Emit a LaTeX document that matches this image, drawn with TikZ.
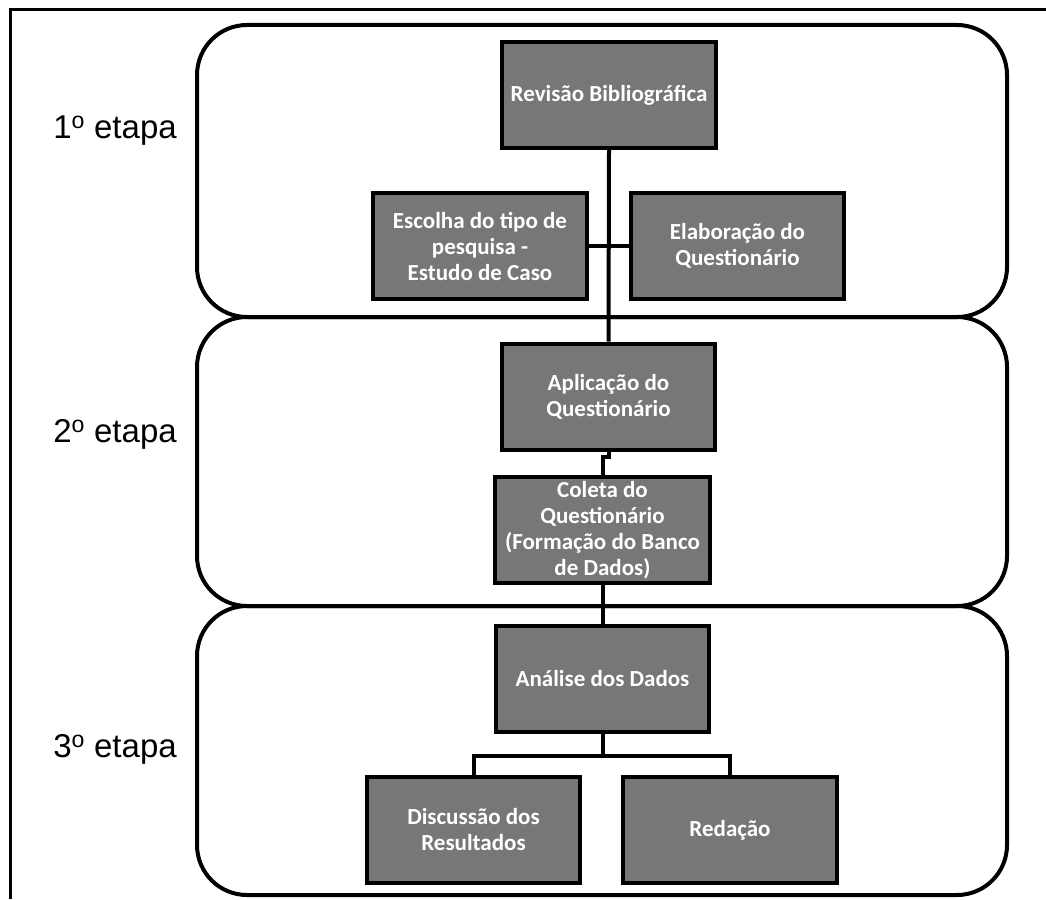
\documentclass[tikz,border=0pt]{standalone}
\usepackage{fontspec}
\setmainfont{Liberation Sans}
\newfontfamily\boxfont{Carlito}
\definecolor{boxgray}{RGB}{119,119,119}
\tikzset{
  stagebox/.style={draw=black, line width=4pt, rounded corners=50pt},
  graybox/.style={draw=black, fill=boxgray, line width=4pt, text=white,
    minimum width=#1, minimum height=106pt, inner sep=2pt, align=center,
    font=\boxfont\bfseries\fontsize{23}{26}\selectfont},
  graybox/.default=214pt,
  conn/.style={draw=black, line width=4pt},
  stagelabel/.style={anchor=base, font=\fontsize{33}{38}\selectfont},
  framestyle/.style={draw=black, line width=3pt}
}
\begin{document}
\begin{tikzpicture}[x=1pt,y=-1pt]
\useasboundingbox (0,0) rectangle (1046,899);
% outer frame (left and top)
\coordinate (fbl) at (10,899);
\coordinate (ftl) at (10,10);
\coordinate (ftr) at (1046,10);
\draw[framestyle] (fbl) -- (ftl) -- (ftr);
% stage boxes
\draw[stagebox] (197,25) rectangle (1007,317);
\draw[stagebox] (197,317) rectangle (1007,606);
\draw[stagebox] (197,606) rectangle (1007,895);
% labels
\node[stagelabel] (l1) at (115,138) {1\textsuperscript{o} etapa};
\node[stagelabel] (l2) at (115,442) {2\textsuperscript{o} etapa};
\node[stagelabel] (l3) at (115,757) {3\textsuperscript{o} etapa};
% boxes
\node[graybox] (rev) at (609,95) {Revisão Bibliográfica};
\node[graybox] (esc) at (480,246) {Escolha do tipo de\\pesquisa -\\Estudo de Caso};
\node[graybox=213pt] (ela) at (737.5,246) {Elaboração do\\Questionário};
\node[graybox=213pt] (apl) at (608.5,396.5) {Aplicação do\\Questionário};
\node[graybox=215pt] (col) at (602.5,530) {Coleta do\\Questionário\\(Formação do Banco\\de Dados)};
\node[graybox=213pt] (ana) at (602.5,679) {Análise dos Dados};
\node[graybox=213pt] (dis) at (473.5,830) {Discussão dos\\Resultados};
\node[graybox] (red) at (730,830) {Redação};
% connectors
\draw[conn] (rev.south) -- (apl.north);
\draw[conn] (esc.east) -- (ela.west);
\draw[conn] (apl.south) -- ++(0,5) -| (col.north);
\draw[conn] (col.south) -- (ana.north);
\draw[conn] (ana.south) -- ++(0,22) -| (dis.north);
\draw[conn] (ana.south) -- ++(0,22) -| (red.north);
\end{tikzpicture}
\end{document}
